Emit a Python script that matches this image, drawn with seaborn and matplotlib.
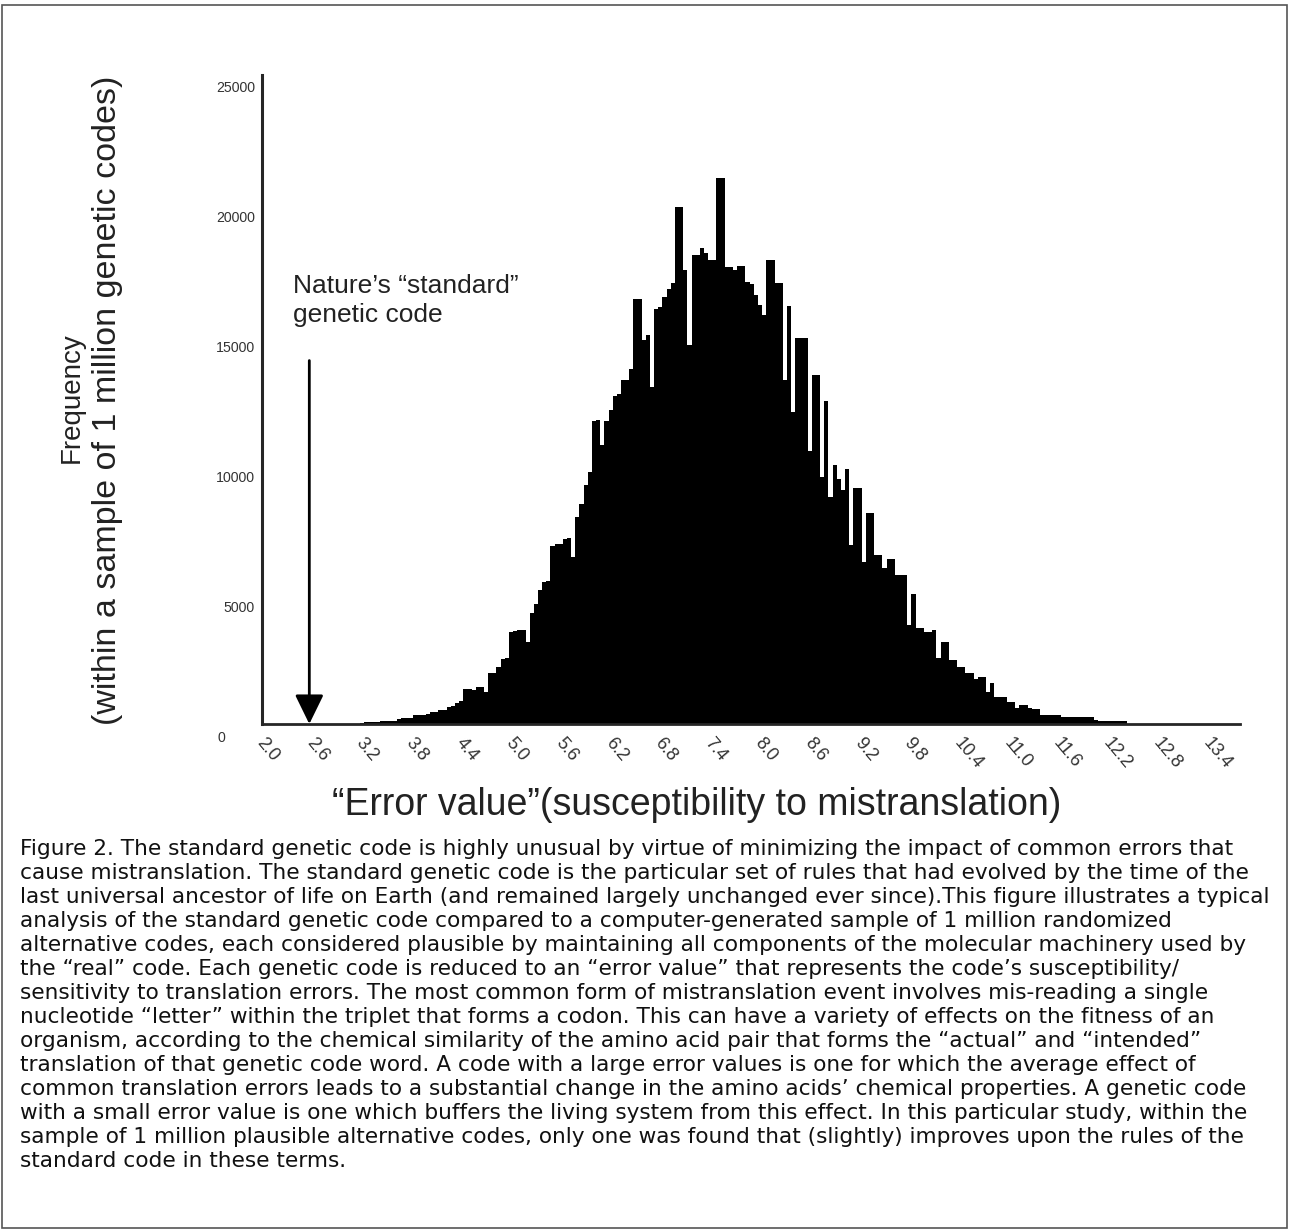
import numpy as np
import pandas as pd
import matplotlib
matplotlib.use('Agg')
import matplotlib.pyplot as plt
import matplotlib.transforms as mtransforms
from matplotlib.patches import Rectangle
from matplotlib.ticker import FixedLocator, MultipleLocator
import seaborn as sns

# Histogram of 1 million random codes, bins of 0.05 starting at 3.00
bin_start = 3.0
bin_width = 0.05
frequency = [
    0, 0, 0, 50, 70, 70, 80, 90, 100, 100,                                     # 3.00 - 3.45
    110, 120, 200, 230, 230, 240, 330, 350, 360, 400,                          # 3.50 - 3.95
    450, 460, 540, 550, 660, 680, 820, 870, 1330, 1340,                        # 4.00 - 4.45
    1320, 1410, 1410, 1240, 1950, 1960, 2210, 2500, 2530, 3560,                # 4.50 - 4.95
    3580, 3620, 3620, 3170, 4260, 4640, 5170, 5480, 5500, 6840,                # 5.00 - 5.45
    6920, 6950, 7120, 7150, 6430, 7980, 8470, 9200, 9710, 11670,               # 5.50 - 5.95
    11700, 10750, 11670, 12090, 12650, 12700, 13250, 13250, 13670, 16370,      # 6.00 - 6.45
    16370, 14790, 14980, 12980, 15980, 16060, 16450, 16750, 16990, 19920,      # 6.50 - 6.95
    19920, 17490, 14600, 18070, 18070, 18340, 18150, 17870, 17870, 21030,      # 7.00 - 7.45
    21030, 17600, 17600, 17490, 17640, 17640, 17030, 16950, 16530, 16140,      # 7.50 - 7.95
    15760, 17870, 17870, 16990, 16990, 13250, 16100, 12000, 14870, 14870,      # 8.00 - 8.45
    14870, 10500, 13440, 13440, 9500, 12430, 8750, 9980, 9440, 9010,           # 8.50 - 8.95
    9820, 6900, 9090, 9090, 6240, 8130, 8130, 6510, 6510, 6010,                # 9.00 - 9.45
    6360, 6360, 5740, 5740, 5740, 3810, 5010, 3700, 3700, 3540,                # 9.50 - 9.95
    3540, 3620, 2540, 3160, 3160, 2470, 2470, 2200, 2200, 1960,                # 10.00 - 10.45
    1960, 1730, 1810, 1810, 1230, 1580, 1040, 1040, 1040, 850,                 # 10.50 - 10.95
    850, 600, 730, 730, 600, 580, 580, 350, 350, 350,                          # 11.00 - 11.45
    350, 350, 270, 270, 270, 270, 270, 270, 270, 270,                          # 11.50 - 11.95
    150, 130, 130, 120, 120, 120, 110, 100,                                    # 12.00 - 12.35
]
error_value = np.round(bin_start + bin_width * np.arange(len(frequency)), 2)

x_tick_labels = ['2.0', '2.6', '3.2', '3.8', '4.4', '5.0', '5.6', '6.2', '6.8', '7.4',
                 '8.0', '8.6', '9.2', '9.8', '10.4', '11.0', '11.6', '12.2', '12.8', '13.4']
y_ticks = [0, 5000, 10000, 15000, 20000, 25000]
standard_code = 2.52
arrow_top = 14000

caption_lines = [
    "Figure 2. The standard genetic code is highly unusual by virtue of minimizing the impact of common errors that",
    "cause mistranslation. The standard genetic code is the particular set of rules that had evolved by the time of the",
    "last universal ancestor of life on Earth (and remained largely unchanged ever since).This figure illustrates a typical",
    "analysis of the standard genetic code compared to a computer-generated sample of 1 million randomized",
    "alternative codes, each considered plausible by maintaining all components of the molecular machinery used by",
    "the \u201creal\u201d code. Each genetic code is reduced to an \u201cerror value\u201d that represents the code\u2019s susceptibility/",
    "sensitivity to translation errors. The most common form of mistranslation event involves mis-reading a single",
    "nucleotide \u201cletter\u201d within the triplet that forms a codon. This can have a variety of effects on the fitness of an",
    "organism, according to the chemical similarity of the amino acid pair that forms the \u201cactual\u201d and \u201cintended\u201d",
    "translation of that genetic code word. A code with a large error values is one for which the average effect of",
    "common translation errors leads to a substantial change in the amino acids\u2019 chemical properties. A genetic code",
    "with a small error value is one which buffers the living system from this effect. In this particular study, within the",
    "sample of 1 million plausible alternative codes, only one was found that (slightly) improves upon the rules of the",
    "standard code in these terms.",
]

df = pd.DataFrame({'error': error_value, 'freq': frequency})

sns.set_style('white')
plt.rcParams['font.family'] = ['Liberation Sans', 'DejaVu Sans']

W, H = 1289, 1230
left, right, bottom, top = 262, 1240, 724, 75
px_per_unit = 83.0

fig = plt.figure(figsize=(W / 100, H / 100), dpi=100)
ax = fig.add_axes([left / W, 1 - bottom / H, (right - left) / W, (bottom - top) / H])

sns.histplot(data=df, x='error', weights='freq', binwidth=bin_width,
             binrange=(bin_start - bin_width / 2, error_value[-1] + bin_width / 2),
             element='step', fill=True, color='black', alpha=1, linewidth=0, ax=ax)

ax.set_xlim(1.95, 1.95 + (right - left) / px_per_unit)
ax.set_ylim(0, 25000)
ax.set_xlabel('')
ax.set_ylabel('')

# axes lines
ax.spines['right'].set_visible(False), ax.spines['top'].set_visible(False)
ax.spines['left'].set_linewidth(2.2)
ax.spines['bottom'].set_linewidth(2.0)

# y ticks: labels every 5000, marks every 1000
ax.yaxis.set_major_locator(FixedLocator(y_ticks))
ax.yaxis.set_minor_locator(MultipleLocator(1000))
ax.set_yticklabels([str(v) for v in y_ticks])
ax.tick_params(axis='y', which='both', direction='out', length=5, width=1.4, color='black',
               labelsize=10.2, labelcolor='#333333', pad=0)
for lab in ax.get_yticklabels():
    dx = -30 if lab.get_text() == '0' else 0
    shift = mtransforms.ScaledTranslation(dx / 100, -12 / 100, fig.dpi_scale_trans)
    lab.set_transform(lab.get_transform() + shift)

# x ticks: labels at category centres, marks at category edges
x_pos = [float(t) for t in x_tick_labels]
ax.xaxis.set_major_locator(FixedLocator(x_pos))
ax.xaxis.set_minor_locator(FixedLocator([p - 0.05 for p in x_pos]))
ax.set_xticklabels(x_tick_labels)
ax.tick_params(axis='x', which='major', length=0, labelsize=13, labelcolor='#333333', pad=8)
ax.tick_params(axis='x', which='minor', direction='out', length=5, width=1.4, color='black')
for lab in ax.get_xticklabels():
    lab.set_rotation(-50)
    lab.set_ha('left')
    lab.set_va('top')
    lab.set_rotation_mode('anchor')

# arrow to the standard code
ax.annotate('', xy=(standard_code, 0), xytext=(standard_code, arrow_top),
            arrowprops=dict(arrowstyle='-|>,head_length=0.45,head_width=0.22', color='black',
                            lw=2, mutation_scale=40, shrinkA=0, shrinkB=0))
fig.text(293 / W, 1 - 274 / H, 'Nature\u2019s \u201cstandard\u201d\ngenetic code', fontsize=19,
         color='#222222', ha='left', va='top', linespacing=1.25)

# axis titles
fig.text(72 / W, 1 - 398 / H, 'Frequency', rotation=90, ha='center', va='center',
         fontsize=20, color='#222222')
fig.text(108 / W, 1 - 400 / H, '(within a sample of 1 million genetic codes)', rotation=90,
         ha='center', va='center', fontsize=24.5, color='#222222')
fig.text(697 / W, 1 - 805 / H, '\u201cError value\u201d(susceptibility to mistranslation)',
         ha='center', va='center', fontsize=27, color='#222222')

# caption
for i, line in enumerate(caption_lines):
    fig.text(20 / W, 1 - (849 + 24 * i) / H, line, ha='left', va='center', fontsize=15.6,
             family=['DejaVu Sans'], color='#111111')

fig.patches.append(Rectangle((2 / W, 2 / H), 1 - 4 / W, 1 - 7 / H, transform=fig.transFigure,
                             fill=False, edgecolor='#555555', linewidth=1.2))

fig.savefig('out.png', dpi=100)
